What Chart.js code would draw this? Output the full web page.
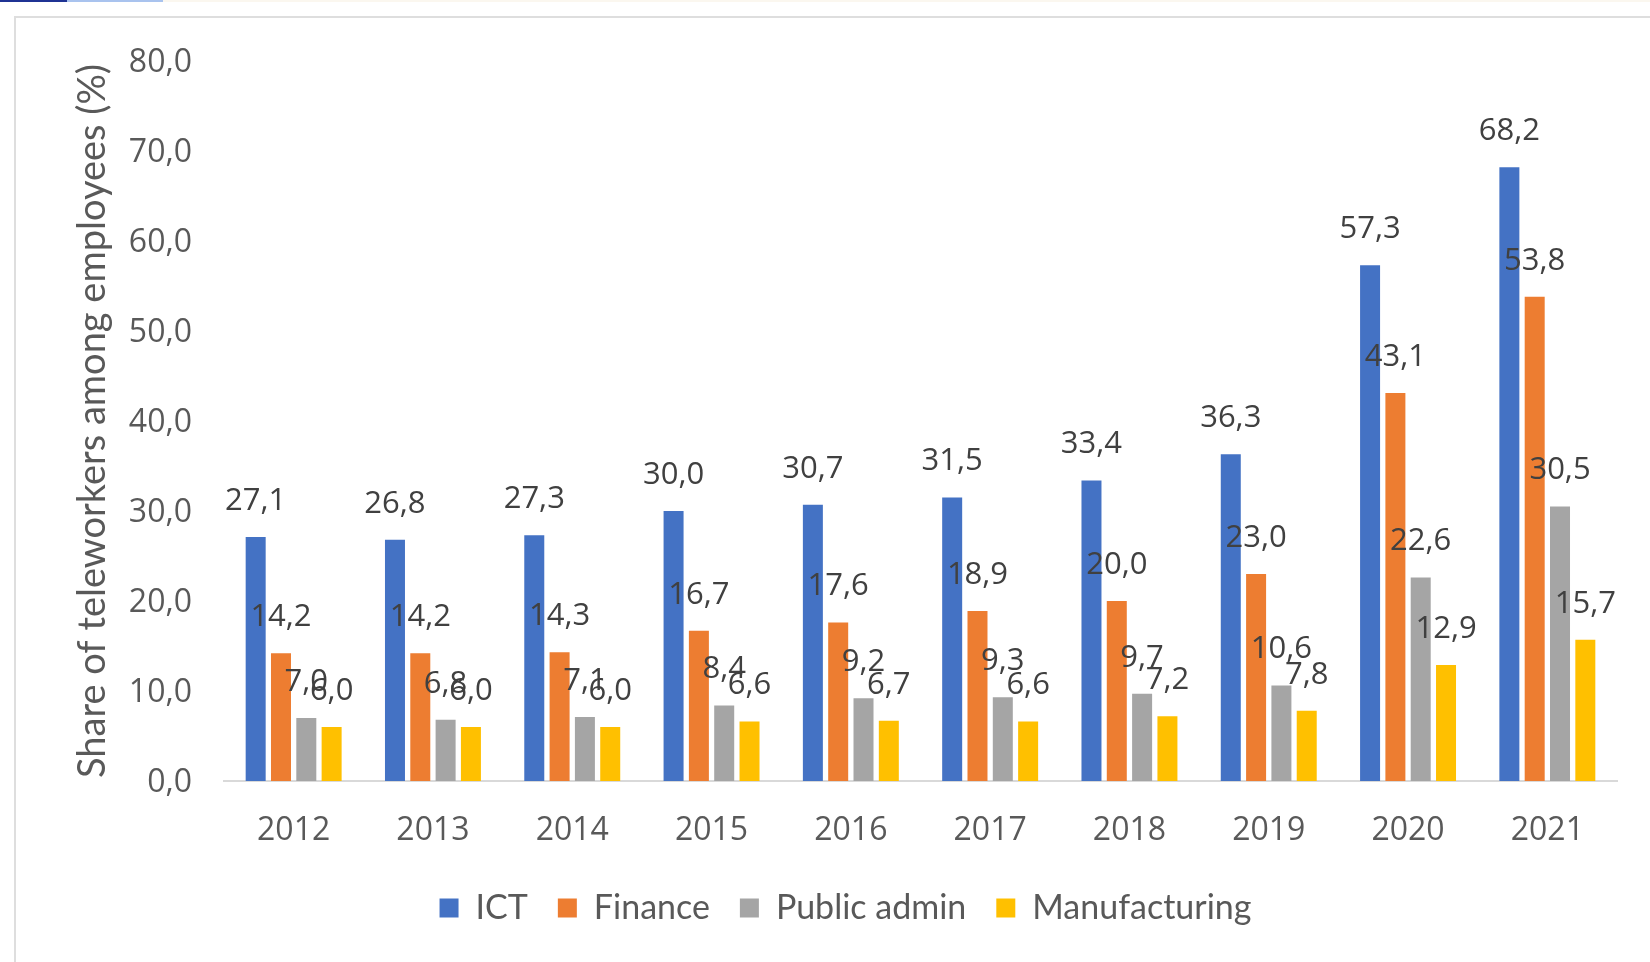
<!DOCTYPE html>
<html>
<head>
<meta charset="utf-8">
<title>Teleworkers by sector</title>
<script src="https://cdn.jsdelivr.net/npm/chart.js@4.4.1/dist/chart.umd.min.js"></script>
<style>
  html, body { margin: 0; padding: 0; background: #fff; }
  body { width: 1650px; height: 962px; position: relative; overflow: hidden; }
  #strip { position: absolute; left: 0; top: 0; width: 1650px; height: 2px; background: #fbf7ef; }
  #strip .a { position: absolute; left: 0; top: 0; width: 67px; height: 2px; background: #1f3393; }
  #strip .b { position: absolute; left: 67px; top: 0; width: 96px; height: 2px; background: #a9c3ee; }
  #frame { position: absolute; left: 14px; top: 16px; width: 1700px; height: 1000px; border: 2px solid #dedede; }
  #chart { position: absolute; left: 0; top: 0; }
</style>
</head>
<body>
<div id="strip"><div class="a"></div><div class="b"></div></div>
<div id="frame"></div>
<canvas id="chart" width="1650" height="962"></canvas>
<script>
// data
const years = ['2012', '2013', '2014', '2015', '2016', '2017', '2018', '2019', '2020', '2021'];
const ict = [27.1, 26.8, 27.3, 30.0, 30.7, 31.5, 33.4, 36.3, 57.3, 68.2];
const finance = [14.2, 14.2, 14.3, 16.7, 17.6, 18.9, 20.0, 23.0, 43.1, 53.8];
const publicAdmin = [7.0, 6.8, 7.1, 8.4, 9.2, 9.3, 9.7, 10.6, 22.6, 30.5];
const manufacturing = [6.0, 6.0, 6.0, 6.6, 6.7, 6.6, 7.2, 7.8, 12.9, 15.7];
const yTicks = [0, 10, 20, 30, 40, 50, 60, 70, 80];

const fmt = v => v.toFixed(1).replace('.', ',');

// value labels above each bar (Excel style, comma decimals)
const barLabels = {
  id: 'barLabels',
  afterDatasetsDraw(chart) {
    const ctx = chart.ctx;
    ctx.save();
    ctx.font = '31px "Open Sans"';
    ctx.fillStyle = '#404040';
    ctx.textAlign = 'center';
    ctx.textBaseline = 'middle';
    chart.data.datasets.forEach((ds, i) => {
      chart.getDatasetMeta(i).data.forEach((bar, j) => {
        ctx.fillText(fmt(ds.data[j]), bar.x, bar.y - 36);
      });
    });
    ctx.restore();
  }
};

new Chart(document.getElementById('chart'), {
  type: 'bar',
  data: {
    labels: years,
    datasets: [
      { label: 'ICT', data: ict, backgroundColor: '#4472c4' },
      { label: 'Finance', data: finance, backgroundColor: '#ed7d31' },
      { label: 'Public admin', data: publicAdmin, backgroundColor: '#a5a5a5' },
      { label: 'Manufacturing', data: manufacturing, backgroundColor: '#ffc000' }
    ]
  },
  options: {
    responsive: false,
    animation: false,
    devicePixelRatio: 1,
    categoryPercentage: 0.727,
    barPercentage: 0.79,
    layout: { padding: { left: 74, right: 33, top: 61, bottom: 27 } },
    plugins: {
      tooltip: { enabled: false },
      legend: {
        position: 'bottom',
        labels: {
          boxWidth: 19,
          boxHeight: 19,
          padding: 30,
          color: '#595959',
          font: { family: 'Lato', size: 34 }
        }
      }
    },
    scales: {
      x: {
        grid: { display: false, drawTicks: false },
        border: { display: true, color: '#d9d9d9', width: 2 },
        ticks: { color: '#595959', padding: 31, font: { family: 'Open Sans', size: 32 } },
        afterFit(scale) { scale.height = 80; }
      },
      y: {
        min: 0,
        max: 80,
        afterBuildTicks(scale) { scale.ticks = yTicks.map(v => ({ value: v })); },
        grid: { display: false, drawTicks: false },
        border: { display: false },
        ticks: {
          color: '#595959', padding: 32, labelOffset: 2,
          font: { family: 'Open Sans', size: 32 }, callback: v => fmt(v)
        },
        title: {
          display: true,
          text: 'Share of teleworkers among employees (%)',
          color: '#595959',
          font: { family: 'Lato', size: 38, lineHeight: 1 },
          padding: 0
        },
        afterFit(scale) { scale.width = 150; }
      }
    }
  },
  plugins: [barLabels]
});
</script>
</body>
</html>
